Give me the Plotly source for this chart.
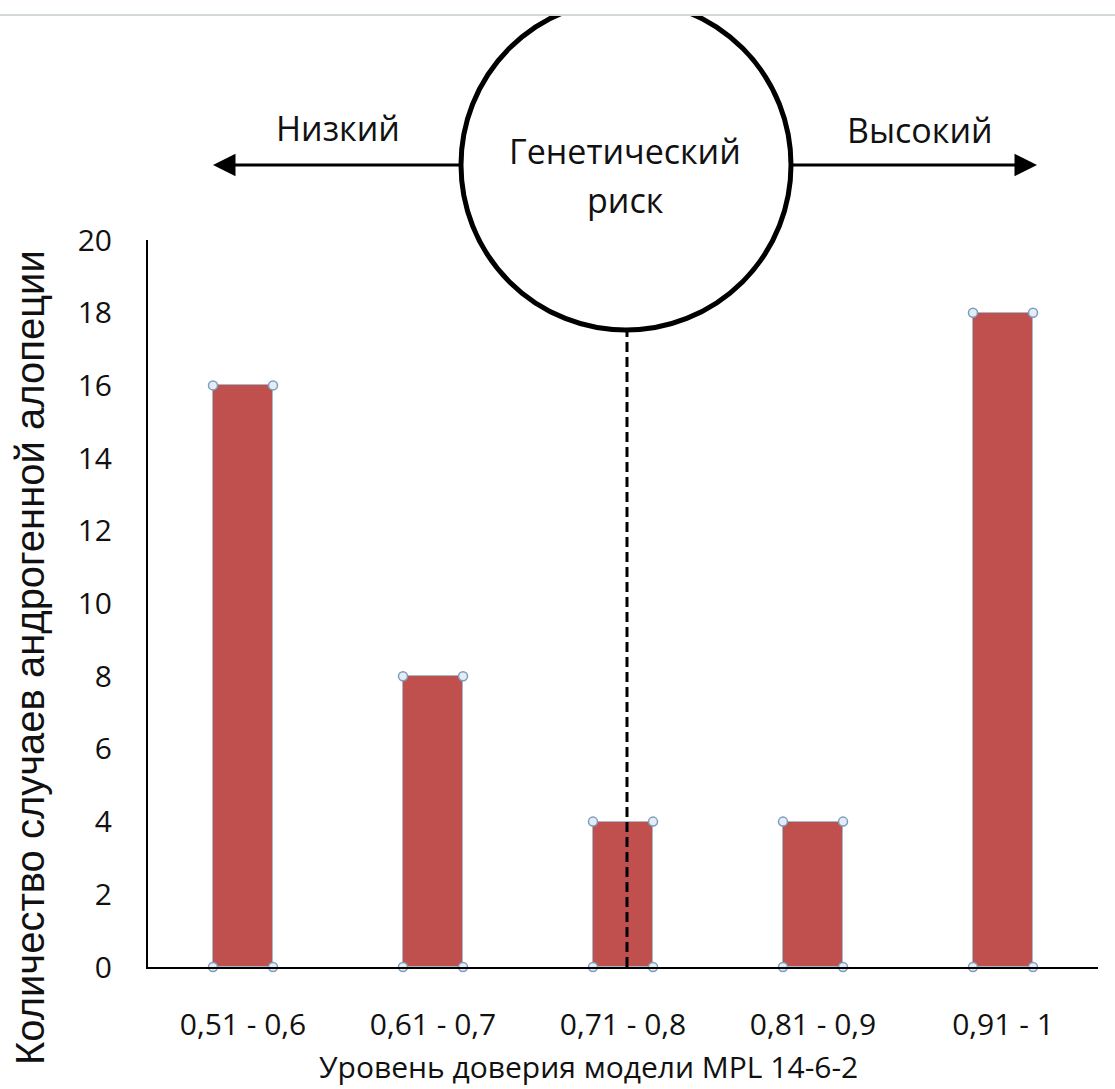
import plotly.graph_objects as go

# Confidence bins of the MPL 14-6-2 model and number of androgenic alopecia cases
categories = ["0,51 - 0,6", "0,61 - 0,7", "0,71 - 0,8", "0,81 - 0,9", "0,91 - 1"]
cases = [16, 8, 4, 4, 18]
y_ticks = list(range(0, 21, 2))

BAR_COLOR = "#C0504D"
BAR_WIDTH = 0.316
TEXT_FONT = "Open Sans"

W, H = 1115, 1089
L, R, T, B = 148, 17, 240, 122
PW, PH = W - L - R, H - T - B


def px_x(px):
    """Pixel column -> paper x."""
    return (px - L) / PW


def px_y(py):
    """Pixel row -> paper y."""
    return (H - B - py) / PH


xs = list(range(len(categories)))

fig = go.Figure()
fig.add_trace(go.Bar(
    x=xs, y=cases, width=BAR_WIDTH,
    marker=dict(color=BAR_COLOR, line=dict(color="#a9b7c8", width=1)),
    hoverinfo="skip",
))

# small handles on each bar corner
hx, hy = [], []
for x, v in zip(xs, cases):
    for dx in (-BAR_WIDTH / 2, BAR_WIDTH / 2):
        for yy in (0, v):
            hx.append(x + dx)
            hy.append(yy)
fig.add_trace(go.Scatter(
    x=hx, y=hy, mode="markers", cliponaxis=False, hoverinfo="skip",
    marker=dict(symbol="circle", size=9, color="#e3edf7",
                line=dict(color="#7f9cba", width=1.5)),
))

# circle "Генетический риск"
cx, cy, r = 626, 165, 165
shapes = [
    dict(type="line", xref="paper", yref="paper",
         x0=px_x(627), x1=px_x(627), y0=0, y1=px_y(cy + r),
         line=dict(color="black", width=3, dash="10px,5px"), layer="above"),
    dict(type="circle", xref="paper", yref="paper",
         x0=px_x(cx - r), x1=px_x(cx + r), y0=px_y(cy + r), y1=px_y(cy - r),
         line=dict(color="black", width=5), fillcolor="white", layer="above"),
    dict(type="rect", xref="paper", yref="paper",
         x0=px_x(0), x1=px_x(W), y0=px_y(15), y1=px_y(-5),
         line=dict(width=0), fillcolor="white", layer="above"),
    dict(type="line", xref="paper", yref="paper",
         x0=px_x(0), x1=px_x(W), y0=px_y(15), y1=px_y(15),
         line=dict(color="#d3d9db", width=2), layer="above"),
]


def label(x, y, text, size=34, family=TEXT_FONT, **kw):
    return dict(xref="paper", yref="paper", x=px_x(x), y=px_y(y), text=text,
                showarrow=False, xanchor="center", yanchor="middle",
                font=dict(family=family, size=size, color="#111"), **kw)


def arrow(tip_x, tail_x, y):
    return dict(xref="paper", yref="paper", x=px_x(tip_x), y=px_y(y), text="",
                showarrow=True, axref="pixel", ayref="pixel",
                ax=tail_x - tip_x, ay=0, arrowhead=2, arrowsize=1.5,
                arrowwidth=3, arrowcolor="black")


annotations = [
    arrow(213, cx - r, 165),
    arrow(1037, cx + r, 165),
    label(338, 128, "Низкий"),
    label(920, 130, "Высокий"),
    label(625, 151, "Генетический"),
    label(625, 200, "риск"),
    label(588, 1066, "Уровень доверия модели MPL 14-6-2", size=30),
    label(30, 658, "Количество случаев андрогенной алопеции", size=40,
          family="Liberation Sans", textangle=-90),
]

fig.update_layout(
    width=W, height=H,
    margin=dict(l=L, r=R, t=T, b=B, autoexpand=False),
    paper_bgcolor="white", plot_bgcolor="white",
    showlegend=False, bargap=0,
    shapes=shapes, annotations=annotations,
    xaxis=dict(
        range=[-0.5, len(categories) - 0.5], tickvals=xs, ticktext=categories,
        showline=True, linecolor="black", linewidth=2, ticks="",
        showgrid=False, zeroline=False, ticklabelstandoff=30,
        tickfont=dict(family=TEXT_FONT, size=30, color="#111"),
        fixedrange=True,
    ),
    yaxis=dict(
        range=[0, 20], tickvals=y_ticks,
        showline=True, linecolor="black", linewidth=2, ticks="",
        showgrid=False, zeroline=False, ticklabelstandoff=28,
        tickfont=dict(family=TEXT_FONT, size=30, color="#111"),
        fixedrange=True,
    ),
)

fig.write_html("out.html")
